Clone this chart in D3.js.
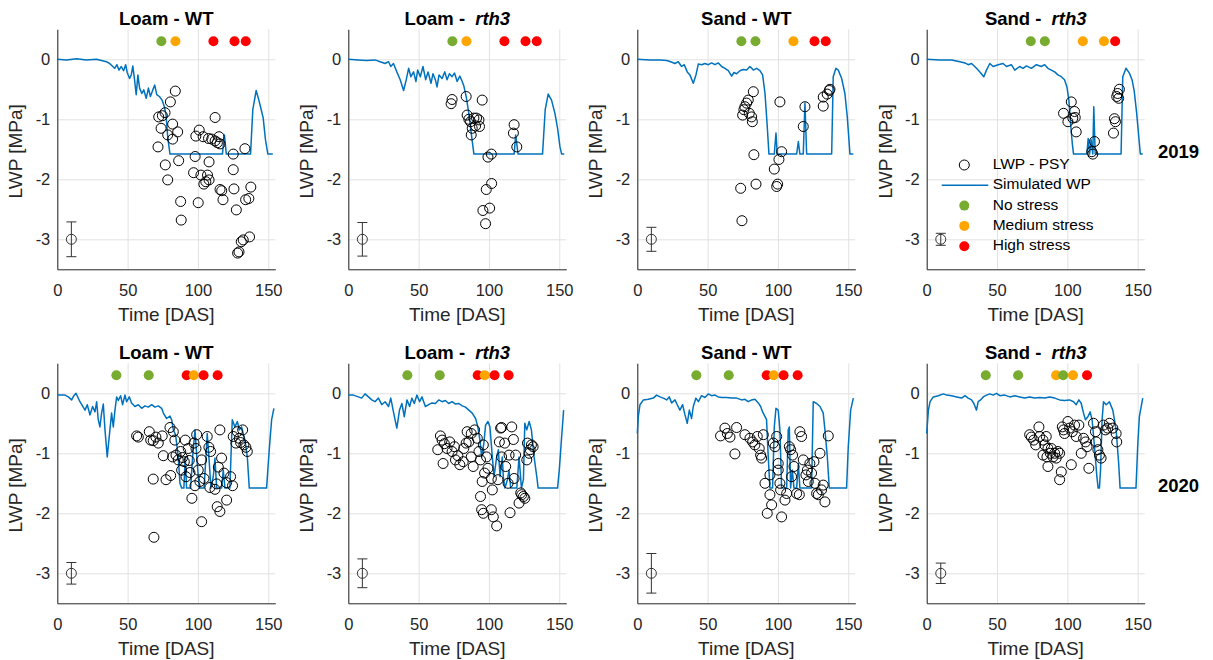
<!DOCTYPE html>
<html>
<head>
<meta charset="utf-8">
<script src="https://cdn.jsdelivr.net/npm/d3@7"></script>
<style>
  body { margin: 0; background: #fff; }
  svg { font-family: "Liberation Sans", Arial, Helvetica, sans-serif; }
</style>
</head>
<body>
<svg id="chart" width="1213" height="660"></svg>
<script>
// ---------------- Data ----------------
// Simulated leaf water potential, [DAS, MPa]
const simLoamWT2019 = [[0,0],[6.6,-0.01],[13.7,0.01],[20.7,-0.01],[27.8,0],[34.9,-0.04],[37.2,-0.07],[40.8,-0.15],[42.4,-0.09],[43.8,-0.18],[45.5,-0.12],[47.1,-0.19],[48.6,-0.09],[49.7,-0.22],[51.4,-0.32],[52.6,-0.26],[53.7,-0.11],[54.9,-0.34],[56.1,-0.59],[57.3,-0.26],[58.5,-0.48],[60.1,-0.57],[61.5,-0.51],[63.2,-0.65],[64.8,-0.48],[66.2,-0.62],[67.9,-0.51],[69.3,-0.43],[70.7,-0.59],[72.6,-0.62],[74.5,-0.68],[76.1,-0.79],[77.3,-0.93],[78.5,-1.29],[80.1,-1.58],[117.4,-1.58],[118.8,-1.26],[120.2,-1.58],[137.4,-1.58],[139.0,-0.84],[141.4,-0.52],[143.3,-0.68],[145.0,-0.84],[146.4,-0.98],[148.0,-1.34],[149.7,-1.58],[153.2,-1.58]];
const simLoamRth2019 = [[0,0],[7.1,-0.01],[13.1,-0.02],[19.0,-0.01],[22.6,-0.04],[26.2,-0.07],[28.6,-0.04],[30.2,-0.12],[32.1,-0.07],[34.5,-0.21],[36.9,-0.34],[39.3,-0.52],[41.2,-0.34],[42.9,-0.15],[44.5,-0.29],[46.4,-0.21],[48.1,-0.37],[49.3,-0.18],[51.2,-0.29],[53.1,-0.12],[55.0,-0.34],[56.7,-0.21],[58.8,-0.4],[60.2,-0.24],[61.9,-0.34],[63.1,-0.46],[64.5,-0.26],[66.7,-0.32],[68.6,-0.21],[70.2,-0.34],[71.9,-0.24],[73.8,-0.29],[75.5,-0.23],[77.4,-0.37],[79.3,-0.28],[81.0,-0.37],[82.1,-0.44],[83.8,-0.62],[85.7,-0.9],[87.4,-1.23],[89.3,-1.58],[117.9,-1.58],[119.0,-1.26],[120.7,-1.58],[138.1,-1.58],[140.0,-0.84],[142.1,-0.58],[144.5,-0.68],[146.9,-0.9],[148.8,-1.15],[150.5,-1.46],[151.7,-1.58],[153.6,-1.58]];
const simSandWT2019 = [[0,0],[9.0,-0.01],[16.1,-0.01],[20.9,-0.02],[23.7,-0.04],[26.8,-0.07],[29.1,-0.04],[31.5,-0.12],[33.4,-0.09],[35.5,-0.21],[37.4,-0.26],[39.8,-0.4],[41.7,-0.26],[43.4,-0.08],[45.7,-0.09],[48.1,-0.07],[50.5,-0.09],[52.8,-0.06],[55.2,-0.09],[57.6,-0.06],[60.0,-0.12],[62.3,-0.15],[64.7,-0.19],[67.1,-0.28],[68.7,-0.22],[70.6,-0.24],[73.0,-0.19],[75.4,-0.17],[77.7,-0.18],[80.1,-0.12],[82.5,-0.18],[84.8,-0.15],[87.2,-0.19],[89.1,-0.26],[90.8,-0.57],[92.4,-1.12],[93.6,-1.58],[97.4,-1.58],[98.6,-1.23],[99.5,-1.58],[113.3,-1.58],[114.5,-1.37],[115.6,-1.58],[118.0,-1.58],[119.2,-0.73],[120.4,-1.58],[138.2,-1.58],[139.3,-0.29],[141.2,-0.15],[142.9,-0.18],[145.3,-0.32],[147.6,-0.57],[149.3,-0.96],[151.2,-1.58],[153.6,-1.58]];
const simSandRth2019 = [[0,0],[9.4,-0.01],[17.7,-0.01],[23.6,-0.04],[27.2,-0.06],[29.5,-0.09],[31.9,-0.07],[35.4,-0.15],[37.8,-0.21],[40.6,-0.29],[42.5,-0.18],[44.9,-0.07],[47.2,-0.12],[50.8,-0.09],[54.3,-0.07],[56.7,-0.12],[60.2,-0.09],[62.6,-0.18],[66.1,-0.12],[68.5,-0.15],[70.9,-0.11],[74.4,-0.15],[78.0,-0.09],[81.5,-0.12],[83.9,-0.09],[86.2,-0.15],[88.6,-0.18],[91.0,-0.21],[93.3,-0.26],[95.7,-0.29],[98.0,-0.34],[99.7,-0.46],[101.1,-0.68],[102.3,-1.07],[103.5,-1.4],[104.4,-1.58],[113.9,-1.58],[114.8,-1.32],[115.8,-1.58],[116.9,-1.34],[118.1,-1.58],[118.8,-0.79],[119.8,-1.58],[138.2,-1.58],[139.4,-0.29],[141.7,-0.15],[144.1,-0.23],[146.0,-0.34],[147.6,-0.54],[149.3,-0.9],[151.2,-1.4],[151.9,-1.58],[153.6,-1.58]];
const simLoamWT2020 = [[0,-0.03],[5.5,-0.03],[7.8,-0.06],[10.2,-0.11],[11.8,-0.04],[13.3,0],[16.1,-0.14],[19.7,-0.28],[21.3,-0.19],[23.2,-0.36],[25.1,-0.22],[26.8,-0.31],[28.0,-0.14],[29.1,-0.44],[30.3,-0.56],[31.5,-0.33],[32.7,-0.18],[33.9,-0.61],[35.5,-1.06],[37.4,-0.61],[38.6,-0.33],[39.8,-0.56],[41.0,-0.28],[42.2,-0.06],[43.4,-0.12],[45.0,-0.04],[46.4,-0.19],[48.1,-0.03],[49.3,-0.14],[51.2,-0.06],[52.8,-0.16],[55.2,-0.22],[57.6,-0.19],[60.0,-0.25],[62.3,-0.21],[64.7,-0.23],[67.1,-0.19],[69.4,-0.23],[71.8,-0.21],[74.2,-0.25],[75.4,-0.33],[77.7,-0.42],[80.1,-0.38],[81.3,-0.44],[82.5,-0.61],[84.1,-0.69],[86.0,-1.06],[87.2,-1.5],[88.4,-1.58],[90.0,-1.58],[91.0,-1.06],[91.9,-1.58],[94.8,-1.58],[96.2,-1.06],[97.9,-0.61],[99.5,-1.17],[100.9,-1.58],[104.3,-1.58],[105.7,-1.06],[106.6,-0.67],[108.1,-1.17],[109.2,-1.58],[110.9,-1.39],[112.1,-1.08],[113.3,-1.58],[116.8,-1.58],[118.0,-1.28],[119.2,-1.58],[122.7,-1.58],[124.4,-0.44],[126.3,-0.56],[128.0,-0.47],[129.4,-0.61],[131.0,-0.56],[133.4,-0.78],[135.1,-1.06],[136.5,-1.58],[148.8,-1.58],[150.0,-1.17],[151.2,-0.78],[152.4,-0.44],[154.0,-0.25]];
const simLoamRth2020 = [[0,-0.03],[3.6,-0.03],[7.1,-0.06],[9.5,-0.08],[11.9,-0.01],[14.3,-0.06],[16.7,-0.11],[19.0,-0.14],[21.4,-0.08],[23.8,-0.19],[26.2,-0.14],[28.6,-0.22],[30.2,-0.08],[32.1,-0.31],[34.5,-0.58],[36.4,-0.28],[38.1,-0.17],[39.8,-0.39],[41.7,-0.11],[43.6,-0.22],[45.2,-0.08],[46.9,-0.17],[48.8,-0.03],[50.7,-0.14],[52.4,-0.06],[54.8,-0.22],[57.1,-0.19],[59.5,-0.16],[61.9,-0.17],[64.3,-0.11],[66.7,-0.14],[69.0,-0.12],[71.4,-0.17],[73.8,-0.14],[76.2,-0.18],[78.6,-0.17],[81.0,-0.21],[83.3,-0.23],[85.7,-0.28],[88.1,-0.33],[90.5,-0.42],[92.1,-0.56],[93.6,-0.78],[94.8,-1.06],[96.4,-0.83],[97.6,-0.53],[99.3,-0.47],[100.7,-0.56],[102.4,-1.06],[103.6,-1.39],[105.5,-1.06],[106.7,-0.94],[107.9,-1.39],[109.5,-1.06],[110.2,-1.39],[111.4,-1.58],[113.1,-1.44],[114.3,-1.28],[115.5,-1.58],[119.8,-1.58],[121.4,-1.06],[123.1,-1.58],[124.5,-1.44],[125.5,-0.5],[126.9,-0.61],[128.6,-0.47],[130.2,-0.61],[132.1,-1.06],[134.0,-1.39],[135.0,-1.58],[148.8,-1.58],[150.0,-1.28],[151.7,-0.72],[153.1,-0.28]];
const simSandWT2020 = [[0,-0.67],[0.7,-0.39],[1.9,-0.19],[4.3,-0.11],[7.8,-0.1],[11.4,-0.08],[13.7,-0.03],[16.1,-0.06],[18.5,-0.08],[20.9,-0.11],[22.7,-0.06],[24.4,-0.16],[26.8,-0.11],[28.4,-0.19],[30.3,-0.28],[32.2,-0.19],[33.9,-0.36],[35.5,-0.5],[37.0,-0.28],[38.6,-0.42],[39.8,-0.22],[41.7,-0.08],[43.4,-0.14],[45.7,-0.04],[48.1,-0.07],[50.5,-0.01],[52.8,-0.04],[55.2,-0.03],[57.6,-0.06],[60.0,-0.07],[63.5,-0.07],[67.1,-0.08],[70.6,-0.08],[74.2,-0.11],[76.5,-0.1],[78.9,-0.14],[81.3,-0.11],[83.6,-0.1],[86.0,-0.16],[87.7,-0.22],[89.1,-0.31],[90.8,-0.39],[91.9,-0.44],[93.1,-1.06],[94.3,-1.58],[96.2,-1.58],[97.4,-0.56],[98.6,-0.25],[100.2,-0.28],[101.4,-0.61],[102.6,-1.58],[106.2,-1.58],[107.3,-0.61],[108.1,-0.56],[109.0,-1.58],[110.2,-1.28],[111.4,-1.58],[113.3,-1.58],[114.5,-1.17],[115.6,-1.58],[123.9,-1.58],[125.1,-0.14],[127.5,-0.17],[129.9,-0.22],[132.2,-0.33],[133.4,-0.61],[135.1,-1.06],[136.5,-1.58],[148.8,-1.58],[150.0,-0.89],[151.7,-0.28],[153.6,-0.08]];
const simSandRth2020 = [[0,-0.67],[1.2,-0.28],[2.4,-0.14],[4.7,-0.06],[8.3,-0.04],[11.8,-0.01],[14.2,-0.03],[17.7,-0.04],[21.3,-0.06],[24.8,-0.08],[27.2,-0.04],[29.5,-0.08],[31.9,-0.11],[33.5,-0.17],[35.4,-0.28],[36.6,-0.14],[38.3,-0.11],[40.2,-0.06],[42.5,-0.03],[44.9,-0.01],[47.2,-0.03],[49.6,0],[52.0,-0.04],[55.5,-0.03],[59.1,-0.06],[62.6,-0.04],[66.1,-0.06],[69.7,-0.08],[73.2,-0.06],[76.8,-0.08],[80.3,-0.07],[83.9,-0.08],[87.4,-0.06],[91.0,-0.08],[94.5,-0.11],[98.0,-0.12],[101.6,-0.11],[104.4,-0.14],[106.3,-0.19],[108.2,-0.11],[109.9,-0.17],[111.5,-0.33],[112.9,-0.44],[114.6,-0.39],[116.2,-0.31],[117.6,-0.44],[119.3,-0.89],[121.0,-1.39],[121.9,-1.58],[122.8,-1.58],[123.6,-1.28],[124.7,-0.44],[125.7,-0.14],[127.6,-0.19],[129.9,-0.14],[132.3,-0.28],[134.7,-0.61],[136.5,-1.17],[137.5,-1.58],[148.8,-1.58],[150.0,-0.89],[151.2,-0.39],[153.6,-0.08]];

// Psychrometer leaf water potential (LWP - PSY), [DAS, MPa]
const obsLoamWT2019 = [[83.9,-0.53],[80.4,-0.71],[76.6,-0.89],[74.7,-0.94],[72.1,-0.96],[73.8,-1.15],[71.6,-1.46],[82.0,-1.08],[85.6,-1.21],[78.5,-1.26],[82.0,-1.33],[76.8,-1.76],[78.5,-2.01],[86.3,-1.69],[87.7,-2.37],[88.1,-2.68],[98.0,-1.62],[96.9,-1.89],[100.2,-2.39],[98.5,-1.28],[100.9,-1.18],[103.7,-1.29],[107.5,-1.32],[109.8,-1.33],[112.2,-0.97],[115.0,-1.29],[113.8,-1.39],[112.2,-1.36],[115.7,-1.41],[102.1,-1.93],[106.8,-1.93],[107.9,-1.71],[104.2,-2.08],[105.6,-2.04],[107.9,-2.01],[115.7,-2.17],[116.9,-2.19],[117.8,-2.34],[125.1,-1.58],[125.1,-1.84],[125.6,-2.16],[127.3,-2.51],[128.2,-3.23],[129.2,-3.21],[130.8,-3.04],[132.2,-3.01],[133.4,-1.49],[133.9,-2.34],[136.2,-2.32],[137.6,-2.13],[136.7,-2.96]];
const obsLoamRth2019 = [[73.8,-0.67],[73.1,-0.74],[83.8,-0.62],[84.5,-0.93],[85.7,-1.0],[86.9,-1.04],[89.3,-0.98],[91.2,-0.98],[92.9,-1.01],[93.3,-1.12],[90.5,-1.11],[88.1,-1.15],[87.4,-1.26],[95.2,-0.68],[99.3,-1.63],[101.7,-1.58],[101.9,-2.07],[98.1,-2.17],[95.7,-2.52],[100.5,-2.48],[97.6,-2.74],[117.9,-1.09],[117.4,-1.23],[119.8,-1.46]];
const obsSandWT2019 = [[82.5,-0.54],[78.9,-0.68],[77.7,-0.73],[76.5,-0.79],[75.8,-0.84],[74.9,-0.93],[79.6,-0.9],[81.3,-0.96],[81.8,-1.04],[82.9,-1.59],[84.4,-2.08],[73.5,-2.15],[74.4,-2.69],[101.4,-0.71],[100.7,-1.67],[102.6,-1.54],[97.4,-1.83],[99.1,-2.12],[99.8,-2.08],[119.2,-0.79],[118.0,-1.12],[132.2,-0.78],[132.2,-0.63],[135.0,-0.58],[136.5,-0.52],[137.0,-0.5]];
const obsSandRth2019 = [[102.8,-0.71],[97.3,-0.9],[100.4,-1.04],[105.1,-0.87],[105.6,-0.97],[106.3,-1.21],[103.9,-0.98],[119.3,-1.37],[118.1,-1.58],[117.4,-1.54],[133.5,-0.99],[134.2,-1.04],[132.8,-1.23],[135.1,-0.62],[135.8,-0.57],[137.0,-0.5],[136.5,-0.65]];
const obsLoamWT2020 = [[56.4,-0.71],[57.6,-0.73],[65.4,-0.64],[66.4,-0.78],[68.2,-0.79],[70.1,-0.73],[71.8,-0.83],[68.2,-1.43],[68.7,-2.4],[75.4,-1.04],[74.6,-0.71],[77.3,-1.44],[80.6,-1.37],[80.1,-0.57],[82.5,-0.64],[83.6,-0.78],[82.0,-1.06],[84.4,-1.03],[86.0,-1.11],[87.7,-0.97],[89.1,-1.07],[90.3,-1.14],[91.0,-0.78],[93.1,-0.92],[93.8,-1.12],[88.4,-1.28],[91.5,-1.39],[94.3,-1.32],[95.7,-1.75],[97.2,-0.83],[98.6,-0.92],[99.1,-0.69],[100.2,-1.28],[101.4,-1.47],[102.6,-1.11],[104.3,-1.42],[106.6,-0.72],[107.8,-0.9],[109.0,-0.97],[108.5,-1.57],[102.6,-2.14],[112.1,-1.6],[113.3,-1.51],[113.7,-1.89],[115.6,-1.97],[116.8,-1.08],[115.6,-0.61],[118.5,-1.33],[120.4,-1.49],[120.4,-1.78],[123.2,-1.39],[124.6,-1.54],[125.1,-0.72],[127.0,-0.83],[128.0,-0.64],[129.4,-0.75],[130.3,-0.82],[131.8,-0.61],[132.7,-0.86],[134.1,-0.9],[135.1,-0.97],[114.5,-1.23],[97.9,-1.54]];
const obsLoamRth2020 = [[65.5,-0.71],[66.7,-0.78],[68.3,-0.84],[63.6,-0.94],[67.4,-1.17],[70.2,-0.92],[72.1,-0.81],[73.8,-0.97],[75.5,-0.89],[76.2,-1.11],[77.9,-1.04],[79.3,-1.19],[81.7,-1.14],[82.1,-0.92],[83.8,-0.83],[84.5,-0.64],[85.7,-0.81],[87.4,-0.67],[87.4,-1.06],[88.8,-1.22],[89.8,-0.61],[91.7,-0.75],[92.9,-0.97],[94.0,-1.11],[96.0,-0.86],[96.9,-1.33],[98.3,-1.06],[99.3,-1.25],[95.2,-1.47],[94.0,-1.72],[94.8,-1.94],[96.0,-2.0],[101.7,-1.42],[102.4,-1.61],[101.7,-1.94],[103.1,-2.06],[105.5,-2.21],[106.4,-1.44],[107.4,-0.81],[108.3,-0.58],[109.0,-0.57],[111.2,-0.83],[111.9,-1.22],[113.6,-1.5],[114.3,-1.03],[116.2,-0.56],[117.4,-0.77],[119.0,-1.03],[115.0,-1.99],[121.4,-1.83],[122.6,-1.66],[123.3,-1.69],[124.5,-1.72],[125.5,-1.75],[126.9,-1.11],[127.4,-0.83],[129.3,-0.94],[130.2,-0.86],[131.4,-0.89],[128.6,-1.0],[109.0,-1.06],[117.9,-1.42]];
const obsSandWT2020 = [[59.2,-0.71],[62.3,-0.58],[64.0,-0.67],[65.9,-0.73],[70.6,-0.57],[69.4,-1.01],[76.5,-0.69],[80.1,-0.75],[82.0,-0.81],[83.6,-0.86],[85.3,-0.72],[86.7,-0.92],[87.7,-1.03],[88.4,-1.08],[89.6,-0.69],[90.8,-1.5],[92.4,-2.0],[94.3,-1.36],[94.3,-1.69],[95.5,-1.86],[96.7,-0.83],[97.9,-0.89],[99.1,-0.72],[100.2,-1.17],[100.2,-1.28],[101.4,-1.5],[101.9,-1.61],[102.6,-2.06],[105.0,-1.78],[106.2,-1.67],[108.1,-0.89],[109.0,-0.94],[110.4,-1.03],[111.4,-1.22],[109.7,-1.39],[113.3,-1.67],[115.2,-1.69],[115.6,-0.64],[116.8,-0.72],[118.0,-1.11],[119.9,-1.36],[120.9,-1.28],[121.6,-1.47],[122.7,-1.17],[123.9,-1.33],[126.3,-1.5],[127.5,-1.67],[128.7,-1.69],[129.9,-1.0],[131.0,-1.61],[132.2,-1.53],[133.4,-1.81],[135.8,-0.71],[125.6,-1.14]];
const obsSandRth2020 = [[73.2,-0.69],[74.4,-0.73],[76.1,-0.78],[77.5,-0.86],[79.8,-0.56],[80.3,-0.72],[82.7,-0.78],[83.9,-0.86],[85.0,-0.72],[86.2,-0.92],[87.9,-1.0],[88.6,-0.92],[89.8,-1.06],[91.0,-1.0],[92.1,-1.08],[93.3,-0.97],[82.7,-1.03],[85.5,-1.06],[86.2,-1.22],[94.5,-1.0],[94.5,-1.44],[95.7,-1.31],[102.8,-1.19],[96.4,-0.56],[97.3,-0.61],[98.0,-0.67],[100.4,-0.47],[101.6,-0.58],[103.5,-0.64],[105.1,-0.53],[106.3,-0.72],[108.2,-0.53],[109.9,-1.0],[111.5,-0.75],[113.0,-0.81],[114.0,-0.89],[115.3,-1.25],[118.6,-0.5],[120.0,-0.64],[120.5,-0.81],[121.7,-0.94],[122.8,-1.03],[124.0,-1.08],[125.7,-0.53],[127.1,-0.61],[128.7,-0.58],[129.9,-0.5],[132.3,-0.58],[134.7,-0.67],[135.1,-0.81]];

// Stress-level sampling days and levels per treatment
const stressDays2019 = [74, 84, 111, 126, 134];
const stressDays2020 = [42, 65, 92, 97, 104, 114];
const stressLoamWT2019  = ["no", "medium", "high", "high", "high"];
const stressLoamRth2019 = ["no", "medium", "high", "high", "high"];
const stressSandWT2019  = ["no", "no", "medium", "high", "high"];
const stressSandRth2019 = ["no", "no", "medium", "medium", "high"];
const stressLoamWT2020  = ["no", "no", "high", "medium", "high", "high"];
const stressLoamRth2020 = ["no", "no", "high", "medium", "high", "high"];
const stressSandWT2020  = ["no", "no", "high", "medium", "high", "high"];
const stressSandRth2020 = ["no", "no", "medium", "no", "medium", "high"];

// Measurement uncertainty (half-length of the error bar, MPa)
const errorHalf = [0.29, 0.28, 0.2, 0.1, 0.18, 0.24, 0.33, 0.17];

// Axis ticks
const xTicks = [0, 50, 100, 150];
const yTicks = [0, -1, -2, -3];
const years = ["2019", "2020"];

const stressColor = { no: "#77AC30", medium: "#FFA500", high: "#FF0000" };
const legendItems = [
  { label: "LWP - PSY", kind: "circle" },
  { label: "Simulated WP", kind: "line" },
  { label: "No stress", kind: "dot", level: "no" },
  { label: "Medium stress", kind: "dot", level: "medium" },
  { label: "High stress", kind: "dot", level: "high" }
];

const panels = [
  { soil: "Loam", geno: "WT",   sim: simLoamWT2019,  obs: obsLoamWT2019,  days: stressDays2019, stress: stressLoamWT2019 },
  { soil: "Loam", geno: "rth3", sim: simLoamRth2019, obs: obsLoamRth2019, days: stressDays2019, stress: stressLoamRth2019 },
  { soil: "Sand", geno: "WT",   sim: simSandWT2019,  obs: obsSandWT2019,  days: stressDays2019, stress: stressSandWT2019 },
  { soil: "Sand", geno: "rth3", sim: simSandRth2019, obs: obsSandRth2019, days: stressDays2019, stress: stressSandRth2019, legend: true },
  { soil: "Loam", geno: "WT",   sim: simLoamWT2020,  obs: obsLoamWT2020,  days: stressDays2020, stress: stressLoamWT2020 },
  { soil: "Loam", geno: "rth3", sim: simLoamRth2020, obs: obsLoamRth2020, days: stressDays2020, stress: stressLoamRth2020 },
  { soil: "Sand", geno: "WT",   sim: simSandWT2020,  obs: obsSandWT2020,  days: stressDays2020, stress: stressSandWT2020 },
  { soil: "Sand", geno: "rth3", sim: simSandRth2020, obs: obsSandRth2020, days: stressDays2020, stress: stressSandRth2020 }
];

// ---------------- Layout ----------------
const colLeft = [57.3, 348.3, 637.3, 926.7];
const rowTop = [29.3, 363.3];
const W = 218, H = 240;
const axisColor = "#262626";
const gridColor = "#e2e2e2";
const lineBlue = "#0072BD";

const svg = d3.select("#chart");

const x = d3.scaleLinear().domain([0, 155]).range([0, W]);
const y = d3.scaleLinear().domain([0.5, -3.5]).range([0, H]);

panels.forEach((p, i) => {
  const g = svg.append("g")
    .attr("transform", `translate(${colLeft[i % 4]},${rowTop[Math.floor(i / 4)]})`);

  // grid
  g.append("g").attr("class", "grid")
    .attr("transform", `translate(0,${H})`)
    .call(d3.axisBottom(x).tickValues(xTicks).tickSize(-H).tickFormat(""))
    .call(s => s.select(".domain").remove())
    .call(s => s.selectAll("line").attr("stroke", gridColor));
  g.append("g").attr("class", "grid")
    .call(d3.axisLeft(y).tickValues(yTicks).tickSize(-W).tickFormat(""))
    .call(s => s.select(".domain").remove())
    .call(s => s.selectAll("line").attr("stroke", gridColor));

  // axes
  g.append("g")
    .attr("transform", `translate(0,${H})`)
    .call(d3.axisBottom(x).tickValues(xTicks).tickSize(0).tickPadding(15).tickFormat(d => String(d)))
    .call(s => s.select(".domain").attr("stroke", axisColor))
    .call(s => s.selectAll("text").attr("fill", axisColor).style("font-size", "16.5px"));
  g.append("g")
    .call(d3.axisLeft(y).tickValues(yTicks).tickSize(0).tickPadding(7).tickFormat(d => String(d)))
    .call(s => s.select(".domain").attr("stroke", axisColor))
    .call(s => s.selectAll("text").attr("fill", axisColor).style("font-size", "16.5px"));

  // axis labels
  g.append("text")
    .attr("x", W / 2).attr("y", H + 52)
    .attr("text-anchor", "middle").attr("fill", axisColor)
    .style("font-size", "19px").text("Time [DAS]");
  g.append("text")
    .attr("transform", `translate(-40,${H / 2 + 2}) rotate(-90)`)
    .attr("text-anchor", "middle").attr("dominant-baseline", "middle")
    .attr("fill", axisColor).style("font-size", "19px").text("LWP [MPa]");

  // title
  const t = g.append("text")
    .attr("x", W / 2).attr("y", -4)
    .attr("text-anchor", "middle").attr("fill", "#000")
    .style("font-size", "18.5px").style("font-weight", "bold");
  t.append("tspan").text(p.soil + " - ");
  if (p.geno === "rth3") {
    t.append("tspan").attr("dx", 5).style("font-style", "italic").text(p.geno);
  } else {
    t.append("tspan").text(p.geno);
  }

  // simulated water potential
  g.append("path")
    .datum(p.sim)
    .attr("fill", "none").attr("stroke", lineBlue).attr("stroke-width", 1.5)
    .attr("stroke-linejoin", "round")
    .attr("d", d3.line().x(d => x(d[0])).y(d => y(d[1])));

  // measured LWP
  g.append("g").selectAll("circle")
    .data(p.obs).join("circle")
    .attr("cx", d => x(d[0])).attr("cy", d => y(d[1])).attr("r", 5)
    .attr("fill", "none").attr("stroke", "#000").attr("stroke-width", 1);

  // stress markers
  g.append("g").selectAll("circle")
    .data(p.days.map((d, k) => ({ day: d, level: p.stress[k] }))).join("circle")
    .attr("cx", d => x(d.day)).attr("cy", y(0.3)).attr("r", 5)
    .attr("fill", d => stressColor[d.level]);

  // representative error bar
  const e = errorHalf[i];
  const eb = g.append("g").attr("stroke", "#333").attr("stroke-width", 1).attr("fill", "none");
  eb.append("line").attr("x1", x(10)).attr("x2", x(10)).attr("y1", y(-3 + e)).attr("y2", y(-3 - e));
  eb.append("line").attr("x1", x(10) - 5).attr("x2", x(10) + 5).attr("y1", y(-3 + e)).attr("y2", y(-3 + e));
  eb.append("line").attr("x1", x(10) - 5).attr("x2", x(10) + 5).attr("y1", y(-3 - e)).attr("y2", y(-3 - e));
  eb.append("circle").attr("cx", x(10)).attr("cy", y(-3)).attr("r", 5);

  // legend
  if (p.legend) {
    const lg = g.append("g");
    legendItems.forEach((it, k) => {
      const ly = 135.7 + k * 20.3;
      if (it.kind === "circle") {
        lg.append("circle").attr("cx", 37.6).attr("cy", ly).attr("r", 5)
          .attr("fill", "none").attr("stroke", "#000");
      } else if (it.kind === "line") {
        lg.append("line").attr("x1", 15).attr("x2", 61.6).attr("y1", ly).attr("y2", ly)
          .attr("stroke", lineBlue).attr("stroke-width", 1.5);
      } else {
        lg.append("circle").attr("cx", 37.6).attr("cy", ly).attr("r", 5)
          .attr("fill", stressColor[it.level]);
      }
      lg.append("text").attr("x", 66).attr("y", ly)
        .attr("dominant-baseline", "middle").attr("fill", "#000")
        .style("font-size", "15.5px").text(it.label);
    });
  }
});

// year labels
years.forEach((yr, r) => {
  svg.append("text")
    .attr("x", 1158).attr("y", r === 0 ? 158 : 491.5)
    .style("font-size", "18.5px").style("font-weight", "bold")
    .attr("fill", "#000").text(yr);
});
</script>
</body>
</html>
